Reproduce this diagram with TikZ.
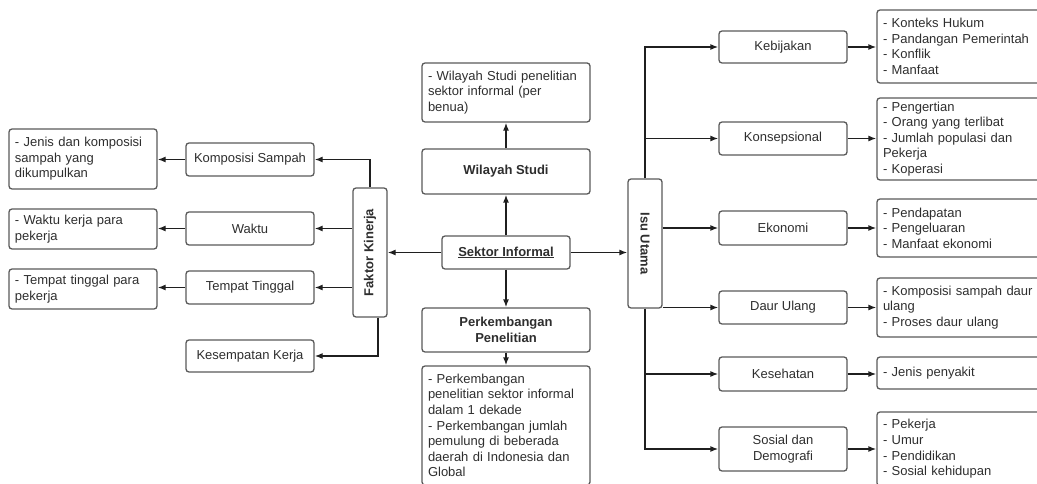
\documentclass[tikz,border=0pt]{standalone}
\usepackage{fontspec}
\setmainfont{Liberation Sans}
\usetikzlibrary{arrows.meta}

\begin{document}
\begin{tikzpicture}[x=1pt, y=-1pt,
  box/.style={draw=boxborder, line width=1.3pt, rounded corners=3pt, text=textgray,
    inner sep=0pt, align=center, minimum width=128pt, font=\fontsize{13}{15.6}\selectfont},
  notebox/.style={box, align=left, inner xsep=6pt},
  bandbox/.style={box, minimum width=34pt, minimum height=129pt},
  conn/.style={->, >={Latex[length=8pt,width=6pt]}, line width=1.3pt, draw=linegray}]
  % Colours for boxes, text and connectors
  \colorlet{boxborder}{black!65}
  \colorlet{linegray}{black!88}
  \colorlet{textgray}{black!82}

  % Fix the page to the size of the reference
  \useasboundingbox (0,0) rectangle (1037,484);
  \clip (0,0) rectangle (1037,484);

  % Central topic
  \node[box, minimum height=33pt] (sektor) at (506,252.5) {\underline{\textbf{Sektor Informal}}};

  % Wilayah Studi branch
  \node[box, minimum width=168pt, minimum height=45pt] (wilayah) at (506,171.5) {\textbf{Wilayah Studi}};
  \node[notebox, text width=156pt, minimum height=59pt] (wilayahdet) at (506,92.5)
    {- Wilayah Studi penelitian\\sektor informal (per\\benua)};

  % Perkembangan Penelitian branch
  \node[box, minimum width=168pt, minimum height=44pt] (perkembangan) at (506,330)
    {\textbf{Perkembangan}\\\textbf{Penelitian}};
  \node[notebox, text width=156pt, minimum height=119pt] (perkdet) at (506,425.5)
    {- Perkembangan\\penelitian sektor informal\\dalam 1 dekade\\- Perkembangan jumlah\\pemulung di beberada\\daerah di Indonesia dan\\Global};

  % Faktor Kinerja branch
  \node[bandbox] (faktor) at (370,252.5) {\rotatebox{90}{\textbf{Faktor Kinerja}}};
  \node[box, minimum height=33pt] (komposisi) at (250,159.5) {Komposisi Sampah};
  \node[box, minimum height=33pt] (waktu) at (250,228.5) {Waktu};
  \node[box, minimum height=33pt] (tempat) at (250,287.5) {Tempat Tinggal};
  \node[box, minimum height=32pt] (kesempatan) at (250,356) {Kesempatan Kerja};
  \node[notebox, text width=136pt, minimum height=60pt] (jenis) at (83,159)
    {- Jenis dan komposisi\\sampah yang\\dikumpulkan};
  \node[notebox, text width=136pt, minimum height=40pt] (waktudet) at (83,229)
    {- Waktu kerja para\\pekerja};
  \node[notebox, text width=136pt, minimum height=40pt] (tempatdet) at (83,289)
    {- Tempat tinggal para\\pekerja};

  % Isu Utama branch
  \node[bandbox] (isu) at (645,243.5) {\rotatebox{-90}{\textbf{Isu Utama}}};
  \node[box, minimum height=32pt] (kebijakan) at (783,47) {Kebijakan};
  \node[box, minimum height=33pt] (konsepsional) at (783,138.5) {Konsepsional};
  \node[box, minimum height=34pt] (ekonomi) at (783,228) {Ekonomi};
  \node[box, minimum height=33pt] (daur) at (783,307.5) {Daur Ulang};
  \node[box, minimum height=34pt] (kesehatan) at (783,374) {Kesehatan};
  \node[box, minimum height=44pt] (sosial) at (783,449) {Sosial dan\\Demografi};
  \node[notebox, text width=158pt, minimum height=73pt] (kebijakandet) at (962,46.5)
    {- Konteks Hukum\\- Pandangan Pemerintah\\- Konflik\\- Manfaat};
  \node[notebox, text width=158pt, minimum height=82pt] (konsepdet) at (962,139)
    {- Pengertian\\- Orang yang terlibat\\- Jumlah populasi dan\\Pekerja\\- Koperasi};
  \node[notebox, text width=158pt, minimum height=58pt] (ekonomidet) at (962,228)
    {- Pendapatan\\- Pengeluaran\\- Manfaat ekonomi};
  \node[notebox, text width=158pt, minimum height=59pt] (daurdet) at (962,307.5)
    {- Komposisi sampah daur\\ulang\\- Proses daur ulang};
  \node[notebox, text width=158pt, minimum height=32pt] (kesehatandet) at (962,373)
    {- Jenis penyakit};
  \node[notebox, text width=158pt, minimum height=74pt] (sosialdet) at (962,449)
    {- Pekerja\\- Umur\\- Pendidikan\\- Sosial kehidupan};

  % Connectors from the central topic
  \draw[conn] (sektor.north) -- (wilayah.south);
  \draw[conn] (wilayah.north) -- (wilayahdet.south);
  \draw[conn] (sektor.south) -- (perkembangan.north);
  \draw[conn] (perkembangan.south) -- (perkdet.north);
  \draw[conn] (sektor.west) -- (sektor.west -| faktor.east);
  \draw[conn] (sektor.east) -- (sektor.east -| isu.west);

  % Connectors of Faktor Kinerja
  \draw[conn] (faktor.north) |- (komposisi.east);
  \draw[conn] (waktu.east -| faktor.west) -- (waktu.east);
  \draw[conn] (tempat.east -| faktor.west) -- (tempat.east);
  \draw[conn] ([xshift=8pt]faktor.south) |- (kesempatan.east);
  \draw[conn] (komposisi.west) -- (komposisi.west -| jenis.east);
  \draw[conn] (waktu.west) -- (waktu.west -| waktudet.east);
  \draw[conn] (tempat.west) -- (tempat.west -| tempatdet.east);

  % Connectors of Isu Utama
  \draw[conn] (isu.north) |- (kebijakan.west);
  \draw[conn] (isu.north |- konsepsional.west) -- (konsepsional.west);
  \draw[conn] (ekonomi.west -| isu.east) -- (ekonomi.west);
  \draw[conn] (daur.west -| isu.east) -- (daur.west);
  \draw[conn] (isu.south |- kesehatan.west) -- (kesehatan.west);
  \draw[conn] (isu.south) |- (sosial.west);
  \draw[conn] (kebijakan.east) -- (kebijakan.east -| kebijakandet.west);
  \draw[conn] (konsepsional.east) -- (konsepsional.east -| konsepdet.west);
  \draw[conn] (ekonomi.east) -- (ekonomi.east -| ekonomidet.west);
  \draw[conn] (daur.east) -- (daur.east -| daurdet.west);
  \draw[conn] (kesehatan.east) -- (kesehatan.east -| kesehatandet.west);
  \draw[conn] (sosial.east) -- (sosial.east -| sosialdet.west);
\end{tikzpicture}
\end{document}
